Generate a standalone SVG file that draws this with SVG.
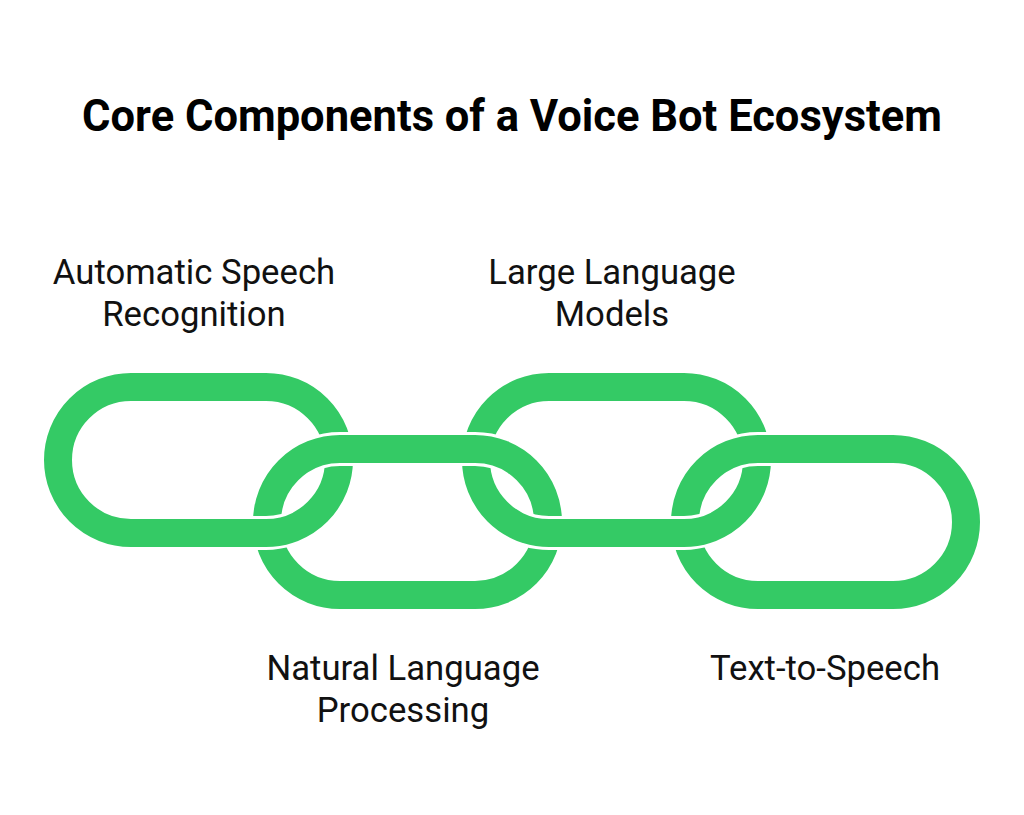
<svg xmlns="http://www.w3.org/2000/svg" width="1024" height="815" viewBox="0 0 1024 815">
<style>
.bg{fill:#ffffff}
.title{font-family:Roboto,"Liberation Sans",sans-serif;font-weight:bold;font-size:43.5px;fill:#000;text-anchor:middle}
.lbl{font-family:Roboto,"Liberation Sans",sans-serif;font-size:34.7px;fill:#111;text-anchor:middle}
.link{fill:none;stroke:#34CA65;stroke-width:28}
.gap{fill:none;stroke:#ffffff;stroke-width:34}
</style>
<defs>
<rect id="L1" x="58" y="387" width="281" height="146" rx="73"/>
<rect id="L2" x="267" y="449" width="281" height="146" rx="73"/>
<rect id="L3" x="476" y="387" width="281" height="146" rx="73"/>
<rect id="L4" x="685" y="449" width="281" height="146" rx="73"/>
<clipPath id="cA"><rect x="308" y="424" width="56" height="52"/></clipPath>
<clipPath id="cB"><rect x="243" y="508" width="50" height="50"/></clipPath>
<clipPath id="cC"><rect x="450" y="424" width="58" height="52"/></clipPath>
<clipPath id="cD"><rect x="523" y="508" width="50" height="50"/></clipPath>
<clipPath id="cE"><rect x="726" y="424" width="56" height="52"/></clipPath>
<clipPath id="cF"><rect x="661" y="508" width="50" height="50"/></clipPath>
</defs>
<rect class="bg" x="0" y="0" width="1024" height="815"/>
<text class="title" x="512" y="131">Core Components of a Voice Bot Ecosystem</text>
<g id="chain">
<g id="link-asr"><use href="#L1" class="link"/></g>
<g id="link-nlp"><use href="#L2" class="link"/></g>
<g id="link-llm"><use href="#L3" class="link"/></g>
<g id="link-tts"><use href="#L4" class="link"/></g>
<g id="interlocks">
<g clip-path="url(#cA)"><use href="#L2" class="gap"/><use href="#L2" class="link"/></g>
<g clip-path="url(#cB)"><use href="#L1" class="gap"/><use href="#L1" class="link"/></g>
<g clip-path="url(#cC)"><use href="#L2" class="gap"/><use href="#L2" class="link"/></g>
<g clip-path="url(#cD)"><use href="#L3" class="gap"/><use href="#L3" class="link"/></g>
<g clip-path="url(#cE)"><use href="#L4" class="gap"/><use href="#L4" class="link"/></g>
<g clip-path="url(#cF)"><use href="#L3" class="gap"/><use href="#L3" class="link"/></g>
</g>
</g>
<g id="label-asr"><text class="lbl" x="194" y="284">Automatic Speech</text><text class="lbl" x="194" y="326">Recognition</text></g>
<g id="label-llm"><text class="lbl" x="612" y="284">Large Language</text><text class="lbl" x="612" y="326">Models</text></g>
<g id="label-nlp"><text class="lbl" x="403" y="680">Natural Language</text><text class="lbl" x="403" y="722">Processing</text></g>
<g id="label-tts"><text class="lbl" x="825" y="680">Text-to-Speech</text></g>
</svg>
